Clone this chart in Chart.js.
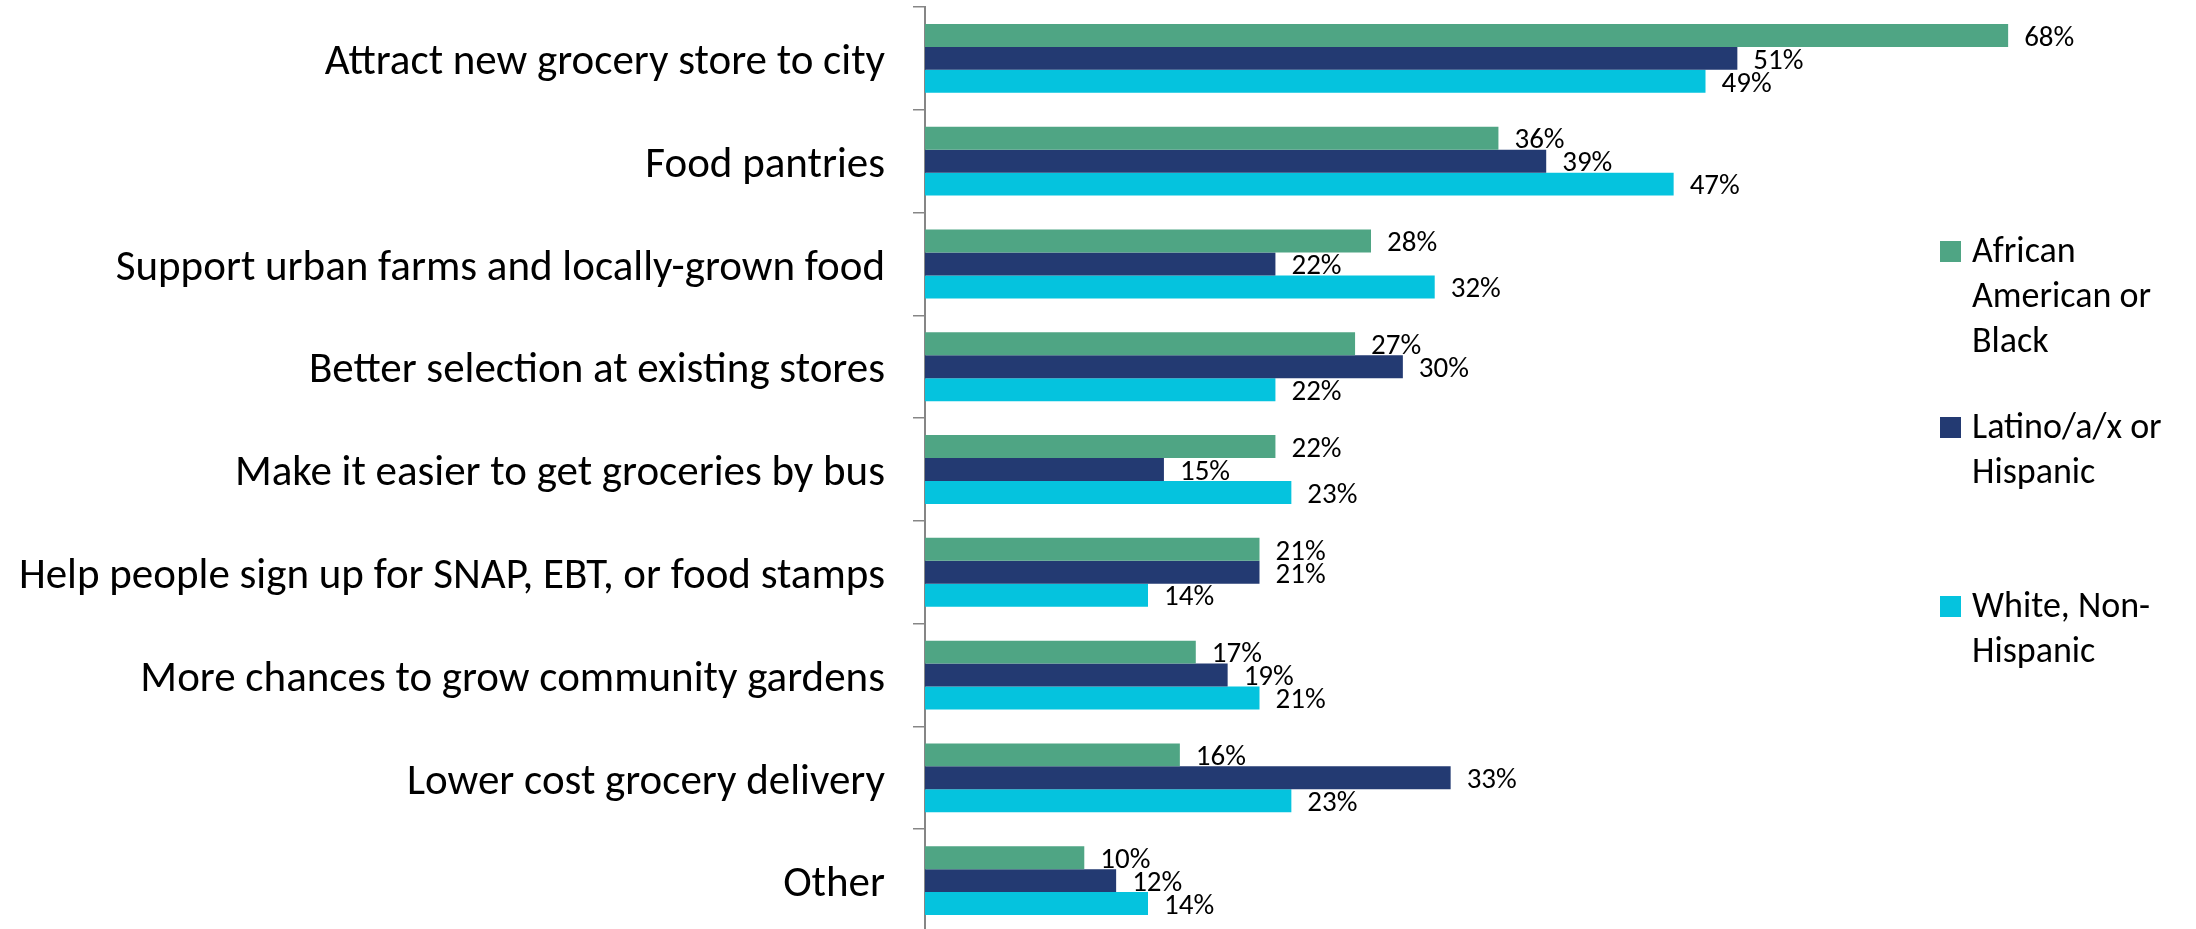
<!DOCTYPE html>
<html>
<head>
<meta charset="utf-8">
<script src="https://cdn.jsdelivr.net/npm/chart.js@4.4.1/dist/chart.umd.min.js"></script>
<style>
  html, body { margin: 0; padding: 0; background: #ffffff; overflow: hidden; }
  #wrap { width: 2196px; height: 932px; }
</style>
</head>
<body>
<div id="wrap"><canvas id="c" width="2196" height="932"></canvas></div>
<script>
const categories = [
  "Attract new grocery store to city",
  "Food pantries",
  "Support urban farms and locally-grown food",
  "Better selection at existing stores",
  "Make it easier to get groceries by bus",
  "Help people sign up for SNAP, EBT, or food stamps",
  "More chances to grow community gardens",
  "Lower cost grocery delivery",
  "Other"
];
const africanAmerican = [68, 36, 28, 27, 22, 21, 17, 16, 10];
const latino = [51, 39, 22, 30, 15, 21, 19, 33, 12];
const whiteNonHispanic = [49, 47, 32, 22, 23, 14, 21, 23, 14];
const seriesNames = ["African American or Black", "Latino/a/x or Hispanic", "White, Non-Hispanic"];
const legendLines = [["African", "American or", "Black"], ["Latino/a/x or", "Hispanic"], ["White, Non-", "Hispanic"]];
const seriesColors = ["#4FA584", "#233A72", "#05C3DE"];

const FONT = "Carlito, Lato, 'Open Sans', sans-serif";

const valueLabels = {
  id: 'valueLabels',
  afterDatasetsDraw(chart) {
    const ctx = chart.ctx;
    ctx.save();
    ctx.font = "29px " + FONT;
    ctx.fillStyle = "#000000";
    ctx.textAlign = "left";
    ctx.textBaseline = "middle";
    chart.data.datasets.forEach((ds, di) => {
      const meta = chart.getDatasetMeta(di);
      meta.data.forEach((bar, i) => {
        ctx.fillText(ds.data[i] + "%", bar.x + 16, bar.y + 3);
      });
    });
    ctx.restore();
  }
};

const sideLegend = {
  id: 'sideLegend',
  afterDraw(chart) {
    const ctx = chart.ctx;
    const boxX = 1940, box = 21, textX = 1972, lineH = 45;
    const firstBaselines = [262, 438, 617];
    ctx.save();
    ctx.font = "36px " + FONT;
    ctx.textAlign = "left";
    ctx.textBaseline = "alphabetic";
    chart.data.datasets.forEach((ds, di) => {
      const b = firstBaselines[di];
      ctx.fillStyle = ds.backgroundColor;
      ctx.fillRect(boxX, b - box, box, box);
      ctx.fillStyle = "#000000";
      legendLines[di].forEach((line, li) => {
        ctx.fillText(line, textX, b + li * lineH);
      });
    });
    ctx.restore();
  }
};

new Chart(document.getElementById('c'), {
  type: 'bar',
  data: {
    labels: categories,
    datasets: [
      { label: seriesNames[0], data: africanAmerican, backgroundColor: seriesColors[0] },
      { label: seriesNames[1], data: latino, backgroundColor: seriesColors[1] },
      { label: seriesNames[2], data: whiteNonHispanic, backgroundColor: seriesColors[2] }
    ]
  },
  options: {
    indexAxis: 'y',
    responsive: false,
    animation: false,
    devicePixelRatio: 1,
    layout: { padding: { top: 7, right: 156, bottom: 0, left: 0 } },
    datasets: { bar: { categoryPercentage: 0.67, barPercentage: 1.0, borderWidth: 0 } },
    plugins: { legend: { display: false }, tooltip: { enabled: false } },
    scales: {
      x: { display: false, min: 0, max: 70 },
      y: {
        afterFit(scale) {
          scale.width = 925;
          scale.paddingTop = 0;
          scale.paddingBottom = 0;
        },
        grid: { display: true, offset: true, drawOnChartArea: false, drawTicks: true, tickLength: 12, color: '#868686', lineWidth: 1.5 },
        border: { display: true, color: '#868686', width: 2 },
        ticks: { color: '#000000', padding: 28, autoSkip: false, labelOffset: 5, font: { family: FONT, size: 43 } }
      }
    }
  },
  plugins: [valueLabels, sideLegend]
});
</script>
</body>
</html>
